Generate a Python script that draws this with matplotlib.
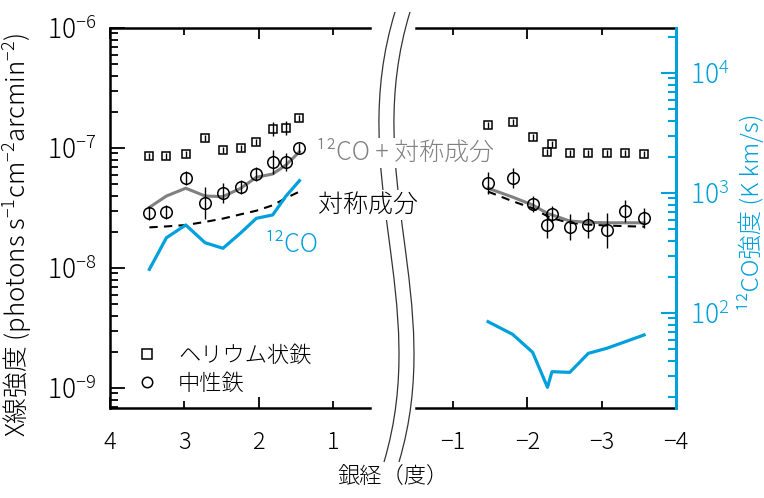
import numpy as np
import matplotlib
matplotlib.use('Agg')
import matplotlib.pyplot as plt
from matplotlib.lines import Line2D
from matplotlib.path import Path
from matplotlib.patches import PathPatch
from matplotlib.ticker import FuncFormatter, LogLocator, NullFormatter

plt.rcParams['font.family'] = ['Noto Sans CJK JP', 'DejaVu Sans']
plt.rcParams['font.weight'] = 'light'
plt.rcParams['mathtext.fontset'] = 'custom'
plt.rcParams['mathtext.rm'] = 'Noto Sans CJK JP:light'
plt.rcParams['mathtext.default'] = 'regular'

CYAN = '#00a0dc'
GRAY = '#808080'

# positive longitude side (deg)
l_pos = [3.47, 3.24, 2.98, 2.72, 2.48, 2.24, 2.03, 1.81, 1.63, 1.45]
he_pos = [8.5e-8, 8.5e-8, 8.9e-8, 1.2e-7, 9.6e-8, 1.0e-7, 1.13e-7, 1.43e-7, 1.46e-7, 1.77e-7]
he_pos_err = [0.025, 0.025, 0.025, 0.025, 0.025, 0.025, 0.025, 0.058, 0.058, 0.025]  # dex
fe_pos = [2.89e-8, 2.95e-8, 5.65e-8, 3.46e-8, 4.24e-8, 4.76e-8, 6.04e-8, 7.69e-8, 7.69e-8, 1.006e-7]
fe_pos_err = [0.058, 0.058, 0.058, 0.133, 0.083, 0.058, 0.058, 0.1, 0.075, 0.042]
model_pos = [3.2e-8, 3.98e-8, 4.62e-8, 3.98e-8, 3.93e-8, 4.62e-8, 5.7e-8, 6.07e-8, 7.22e-8, 9.3e-8]
sym_pos = [2.18e-8, 2.22e-8, 2.28e-8, 2.42e-8, 2.58e-8, 2.8e-8, 3.0e-8, 3.33e-8, 3.83e-8, 4.33e-8]
co_pos = [231, 424, 541, 385, 346, 465, 615, 656, 944, 1266]

# negative longitude side (deg)
l_neg = [-1.47, -1.80, -2.07, -2.27, -2.33, -2.57, -2.82, -3.07, -3.32, -3.57]
he_neg = [1.56e-7, 1.66e-7, 1.23e-7, 9.3e-8, 1.07e-7, 9.04e-8, 9.15e-8, 9.15e-8, 9.04e-8, 8.91e-8]
he_neg_err = [0.025] * 10
fe_neg = [5.08e-8, 5.59e-8, 3.41e-8, 2.28e-8, 2.8e-8, 2.18e-8, 2.28e-8, 2.07e-8, 3.0e-8, 2.6e-8]
fe_neg_err = [0.092, 0.083, 0.063, 0.104, 0.067, 0.108, 0.108, 0.146, 0.092, 0.083]
model_neg = [4.62e-8, 3.9e-8, 3.35e-8, 2.85e-8, 2.77e-8, 2.46e-8, 2.4e-8, 2.38e-8, 2.38e-8, 2.38e-8]
sym_neg = [4.33e-8, 3.6e-8, 3.15e-8, 2.7e-8, 2.6e-8, 2.38e-8, 2.3e-8, 2.26e-8, 2.23e-8, 2.21e-8]
co_neg = [84.6, 66.4, 47.0, 24.0, 32.4, 32.0, 46.1, 50.8, 57.7, 65.6]

xray_lim = (10 ** -9.167, 1e-6)
co_lim = (10 ** 1.208, 10 ** 4.375)


def log_err(y, d):
    y = np.asarray(y)
    d = np.asarray(d)
    return [y - y * 10 ** -d, y * 10 ** d - y]


def pow_fmt(v, pos):
    return f'$10^{{{int(round(np.log10(v)))}}}$'


def minus_fmt(v, pos):
    return f'{int(round(v))}'.replace('-', '\u2212')


fig = plt.figure(figsize=(7.64, 4.98), dpi=100)
ax1 = fig.add_axes([110 / 764, 1 - 408 / 498, 260 / 764, 380 / 498])
ax2 = fig.add_axes([416 / 764, 1 - 408 / 498, 260 / 764, 380 / 498])
ax2.patch.set_visible(False)
ax3 = ax2.twinx()

for ax, l, he, he_e, fe, fe_e, mod, sym in (
        (ax1, l_pos, he_pos, he_pos_err, fe_pos, fe_pos_err, model_pos, sym_pos),
        (ax2, l_neg, he_neg, he_neg_err, fe_neg, fe_neg_err, model_neg, sym_neg)):
    ax.set_yscale('log')
    ax.set_ylim(*xray_lim)
    ax.plot(l, sym, color='k', lw=1.5, ls=(0, (4, 3)), zorder=2)
    ax.plot(l, mod, color=GRAY, lw=2.2, zorder=3)
    ax.errorbar(l, he, yerr=log_err(he, he_e), fmt='s', ms=6.3, mfc='none', mec='k',
                mew=1.1, ecolor='k', elinewidth=1.0, capsize=0, zorder=4)
    ax.errorbar(l, fe, yerr=log_err(fe, fe_e), fmt='o', ms=8.3, mfc='none', mec='k',
                mew=1.1, ecolor='k', elinewidth=1.0, capsize=0, zorder=4)

# CO on the positive side shares the right-hand CO scale
ax1co = ax1.twinx()
ax1co.set_yscale('log')
ax1co.set_ylim(*co_lim)
ax1co.plot(l_pos, co_pos, color=CYAN, lw=2.3)
ax1co.axis('off')

ax3.set_yscale('log')
ax3.set_ylim(*co_lim)
ax3.plot(l_neg, co_neg, color=CYAN, lw=2.3)

# x axes
ax1.set_xlim(4, 0.5)
ax2.set_xlim(-0.5, -4)
ax1.set_xticks([4, 2])
ax1.set_xticks([3, 1], minor=True)
ax2.set_xticks([-2, -4])
ax2.set_xticks([-1, -3], minor=True)
for ax in (ax1, ax2):
    ax.xaxis.set_major_formatter(FuncFormatter(minus_fmt))
    ax.xaxis.set_minor_formatter(FuncFormatter(minus_fmt))
    ax.tick_params(axis='x', which='both', direction='in', top=True, labelsize=17,
                   pad=16, width=1.3)
    ax.tick_params(axis='x', which='major', length=8)
    ax.tick_params(axis='x', which='minor', length=5)
    for s in ('top', 'bottom', 'left', 'right'):
        ax.spines[s].set_linewidth(1.8)

ax1.spines['right'].set_visible(False)
ax2.spines['left'].set_visible(False)
ax2.spines['right'].set_visible(False)
for s in ('left', 'top', 'bottom'):
    ax3.spines[s].set_visible(False)
ax3.spines['right'].set_color(CYAN)
ax3.spines['right'].set_linewidth(2.2)

ax1.yaxis.set_major_locator(LogLocator(base=10, numticks=10))
ax1.yaxis.set_minor_locator(LogLocator(base=10, subs=np.arange(2, 10), numticks=10))
ax1.yaxis.set_major_formatter(FuncFormatter(pow_fmt))
ax1.yaxis.set_minor_formatter(NullFormatter())
ax1.tick_params(axis='y', which='both', direction='in', labelsize=19, pad=10, width=1.3)
ax1.tick_params(axis='y', which='major', length=11)
ax1.tick_params(axis='y', which='minor', length=6)
ax2.tick_params(axis='y', which='both', left=False, labelleft=False)

ax3.yaxis.set_major_locator(LogLocator(base=10, numticks=10))
ax3.yaxis.set_minor_locator(LogLocator(base=10, subs=np.arange(2, 10), numticks=10))
ax3.yaxis.set_major_formatter(FuncFormatter(pow_fmt))
ax3.yaxis.set_minor_formatter(NullFormatter())
ax3.tick_params(axis='y', which='both', direction='in', colors=CYAN, labelsize=19,
                pad=10, width=1.5)
ax3.tick_params(axis='y', which='major', length=11)
ax3.tick_params(axis='y', which='minor', length=6)

# curve labels
box = dict(facecolor='white', edgecolor='none', pad=1)
ax1.text(1.23, 9.1e-8, '\u00b9\u00b2CO + 対称成分', color=GRAY, fontsize=18,
         va='center', ha='left', clip_on=False, zorder=10, bbox=box)
ax1.text(1.20, 3.35e-8, '対称成分', color='k', fontsize=18,
         va='center', ha='left', clip_on=False, zorder=10, bbox=box)
ax1.text(1.92, 1.55e-8, '\u00b9\u00b2CO', color=CYAN, fontsize=18,
         va='center', ha='left', clip_on=False, zorder=10)

handles = [Line2D([], [], ls='none', marker='s', ms=6.5, mfc='none', mec='k', mew=1.1),
           Line2D([], [], ls='none', marker='o', ms=7.5, mfc='none', mec='k', mew=1.1)]
ax1.legend(handles, ['ヘリウム状鉄', '中性鉄'], loc='lower left',
           bbox_to_anchor=(0.1, 0.035), frameon=False, fontsize=16,
           handlelength=1.0, handletextpad=0.9, labelspacing=0.25,
           borderpad=0, borderaxespad=0)

# axis titles
fig.text(17 / 764, 1 - 235 / 498,
         'X線強度 (photons s$^{-1}$cm$^{-2}$arcmin$^{-2}$)',
         rotation=90, ha='center', va='center', fontsize=18.5)
fig.text(751 / 764, 1 - 212 / 498, '\u00b9\u00b2CO強度 (K km/s)', color=CYAN,
         rotation=90, ha='center', va='center', fontsize=17.5)
fig.text(393 / 764, 1 - 478 / 498, '銀経（度）', ha='center', va='center', fontsize=16)

# axis break marks between the two panels
for dx in (0, 15):
    pts = [(395 + dx, 12), (345 + dx, 175), (432 + dx, 300), (384 + dx, 462)]
    verts = [(x / 764, 1 - y / 498) for x, y in pts]
    path = Path(verts, [Path.MOVETO, Path.CURVE4, Path.CURVE4, Path.CURVE4])
    fig.add_artist(PathPatch(path, fc='none', ec='#333333', lw=0.9,
                             transform=fig.transFigure, zorder=-1))

fig.savefig('out.png', dpi=100)
